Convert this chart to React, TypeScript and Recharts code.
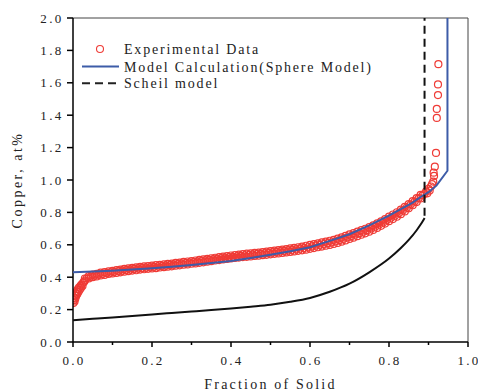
import React from "react"
import { ComposedChart, Line, Scatter, XAxis, YAxis, Legend, ReferenceLine } from "recharts"

const xTicks = [0, 0.1, 0.2, 0.3, 0.4, 0.5, 0.6, 0.7, 0.8, 0.9, 1.0]
const yTicks = [0, 0.1, 0.2, 0.3, 0.4, 0.5, 0.6, 0.7, 0.8, 0.9, 1.0, 1.1, 1.2, 1.3, 1.4, 1.5, 1.6, 1.7, 1.8, 1.9, 2.0]

// experimental data: steep start, dense band (three rows), sparse tail
const headX = [0.001, 0.002, 0.003, 0.004, 0.005, 0.006, 0.007, 0.008, 0.01, 0.011, 0.012, 0.014, 0.015, 0.017, 0.019, 0.02, 0.022, 0.024, 0.026, 0.028]
const headY = [0.24, 0.258, 0.272, 0.25, 0.288, 0.268, 0.3, 0.284, 0.312, 0.296, 0.325, 0.31, 0.336, 0.322, 0.346, 0.334, 0.356, 0.345, 0.366, 0.372]

const bandX = [
  0.03, 0.04, 0.05, 0.06, 0.07, 0.08, 0.09, 0.1, 0.11, 0.12, 0.13, 0.14, 0.15, 0.16, 0.17, 0.18, 0.19, 0.2,
  0.21, 0.22, 0.23, 0.24, 0.25, 0.26, 0.27, 0.28, 0.29, 0.3, 0.31, 0.32, 0.33, 0.34, 0.35, 0.36, 0.37, 0.38,
  0.39, 0.4, 0.41, 0.42, 0.43, 0.44, 0.45, 0.46, 0.47, 0.48, 0.49, 0.5, 0.51, 0.52, 0.53, 0.54, 0.55, 0.56,
  0.57, 0.58, 0.59, 0.6, 0.61, 0.62, 0.63, 0.64, 0.65, 0.66, 0.67, 0.68, 0.69, 0.7, 0.71, 0.72, 0.73, 0.74,
  0.75, 0.76, 0.77, 0.78, 0.79, 0.8, 0.81, 0.82, 0.83, 0.84, 0.85, 0.86, 0.87, 0.88,
]
const bandLow = [
  0.378, 0.392, 0.4, 0.405, 0.411, 0.414, 0.42, 0.423, 0.426, 0.43, 0.434, 0.437, 0.441, 0.443, 0.447, 0.449, 0.452, 0.454,
  0.456, 0.46, 0.462, 0.465, 0.467, 0.471, 0.473, 0.477, 0.479, 0.483, 0.485, 0.489, 0.492, 0.496, 0.499, 0.503, 0.506, 0.51,
  0.513, 0.516, 0.519, 0.521, 0.524, 0.526, 0.528, 0.531, 0.533, 0.536, 0.538, 0.541, 0.544, 0.547, 0.55, 0.553, 0.556, 0.559,
  0.563, 0.566, 0.57, 0.575, 0.58, 0.585, 0.589, 0.594, 0.599, 0.605, 0.611, 0.619, 0.627, 0.636, 0.644, 0.653, 0.662, 0.671,
  0.681, 0.692, 0.704, 0.717, 0.731, 0.746, 0.759, 0.773, 0.789, 0.806, 0.825, 0.844, 0.864, 0.886,
]
const bandHigh = [
  0.392, 0.407, 0.416, 0.421, 0.428, 0.431, 0.436, 0.439, 0.444, 0.447, 0.451, 0.455, 0.457, 0.461, 0.464, 0.467, 0.469, 0.471,
  0.474, 0.476, 0.479, 0.482, 0.484, 0.488, 0.49, 0.494, 0.497, 0.5, 0.503, 0.507, 0.51, 0.513, 0.517, 0.52, 0.524, 0.527,
  0.531, 0.534, 0.537, 0.539, 0.542, 0.545, 0.547, 0.55, 0.552, 0.555, 0.558, 0.561, 0.564, 0.567, 0.57, 0.573, 0.578, 0.581,
  0.585, 0.589, 0.594, 0.599, 0.604, 0.609, 0.615, 0.62, 0.625, 0.631, 0.638, 0.646, 0.655, 0.664, 0.672, 0.681, 0.69, 0.699,
  0.709, 0.72, 0.732, 0.745, 0.759, 0.774, 0.787, 0.801, 0.817, 0.834, 0.851, 0.87, 0.888, 0.908,
]

const bandMidX = [
  0.035, 0.045, 0.055, 0.065, 0.075, 0.085, 0.095, 0.105, 0.115, 0.125, 0.135, 0.145, 0.155, 0.165, 0.175, 0.185, 0.195,
  0.205, 0.215, 0.225, 0.235, 0.245, 0.255, 0.265, 0.275, 0.285, 0.295, 0.305, 0.315, 0.325, 0.335, 0.345, 0.355, 0.365,
  0.375, 0.385, 0.395, 0.405, 0.415, 0.425, 0.435, 0.445, 0.455, 0.465, 0.475, 0.485, 0.495, 0.505, 0.515, 0.525, 0.535,
  0.545, 0.555, 0.565, 0.575, 0.585, 0.595, 0.605, 0.615, 0.625, 0.635, 0.645, 0.655, 0.665, 0.675, 0.685, 0.695, 0.705,
  0.715, 0.725, 0.735, 0.745, 0.755, 0.765, 0.775, 0.785, 0.795, 0.805, 0.815, 0.825, 0.835, 0.845, 0.855, 0.865, 0.875,
]
const bandMid = [
  0.393, 0.404, 0.411, 0.417, 0.421, 0.425, 0.429, 0.433, 0.437, 0.441, 0.444, 0.447, 0.451, 0.454, 0.456, 0.459, 0.461,
  0.464, 0.466, 0.469, 0.472, 0.474, 0.478, 0.481, 0.484, 0.487, 0.49, 0.493, 0.496, 0.5, 0.503, 0.507, 0.51, 0.514,
  0.517, 0.52, 0.524, 0.526, 0.529, 0.532, 0.534, 0.537, 0.539, 0.542, 0.544, 0.547, 0.55, 0.553, 0.556, 0.559, 0.562,
  0.565, 0.569, 0.572, 0.576, 0.58, 0.585, 0.59, 0.595, 0.6, 0.605, 0.61, 0.615, 0.622, 0.629, 0.637, 0.646, 0.654,
  0.663, 0.672, 0.681, 0.69, 0.701, 0.712, 0.725, 0.738, 0.753, 0.767, 0.78, 0.795, 0.812, 0.829, 0.848, 0.867, 0.887,
]

const tailX = [0.885, 0.89, 0.894, 0.897, 0.9, 0.903, 0.906, 0.909, 0.912, 0.913, 0.914, 0.916, 0.919, 0.921, 0.921, 0.924, 0.924, 0.925]
const tailY = [0.905, 0.915, 0.93, 0.918, 0.945, 0.935, 0.96, 0.975, 0.99, 1.045, 1.025, 1.082, 1.167, 1.383, 1.439, 1.524, 1.59, 1.715]

// model calculation (sphere model)
const modelX = [0, 0.05, 0.1, 0.15, 0.2, 0.25, 0.3, 0.35, 0.4, 0.45, 0.5, 0.55, 0.6, 0.65, 0.7, 0.75, 0.8, 0.83, 0.86, 0.88, 0.9, 0.92, 0.948, 0.948]
const modelY = [0.43, 0.435, 0.44, 0.447, 0.455, 0.464, 0.475, 0.487, 0.5, 0.518, 0.538, 0.56, 0.585, 0.624, 0.665, 0.72, 0.78, 0.82, 0.86, 0.895, 0.925, 0.965, 1.057, 2.0]

// Scheil model
const scheilX = [0, 0.05, 0.1, 0.15, 0.2, 0.25, 0.3, 0.35, 0.4, 0.45, 0.5, 0.55, 0.6, 0.65, 0.7, 0.75, 0.8, 0.83, 0.85, 0.87, 0.88, 0.89]
const scheilY = [0.135, 0.143, 0.151, 0.16, 0.17, 0.179, 0.188, 0.197, 0.207, 0.218, 0.23, 0.248, 0.272, 0.31, 0.36, 0.43, 0.515, 0.58, 0.63, 0.69, 0.725, 0.765]
const scheilEdgeX = [0.89, 0.89]
const scheilEdgeY = [0.78, 2.0]

const RED = "#ef3b36"
const BLUE = "#3d5ca8"
const FONT = "'Liberation Serif', 'Times New Roman', serif"

const zip = (xs: number[], ys: number[]) => xs.map((x, i) => ({ x, y: ys[i] }))

const expData = [
  ...zip(headX, headY),
  ...zip(bandX, bandLow),
  ...zip(bandMidX, bandMid),
  ...zip(bandX, bandHigh),
  ...zip(tailX, tailY),
]
const modelData = zip(modelX, modelY)
const scheilData = zip(scheilX, scheilY)
const scheilEdge = zip(scheilEdgeX, scheilEdgeY)

const isMajor = (v: number) => Math.round(v * 10) % 2 === 0

const XTick = ({ x, y, payload }: any) => {
  const v = payload.value
  const major = isMajor(v)
  return (
    <g>
      <line x1={x} x2={x} y1={y} y2={y + (major ? 5 : 3)} stroke="#000" strokeWidth={1.5} />
      {major && (
        <text x={x + 1} y={y + 23} textAnchor="middle" fontFamily={FONT} fontSize={13} letterSpacing={2.3} fill="#222">
          {v.toFixed(1)}
        </text>
      )}
    </g>
  )
}

const YTick = ({ x, y, payload }: any) => {
  const v = payload.value
  const major = isMajor(v)
  return (
    <g>
      <line x1={x - (major ? 6 : 3)} x2={x} y1={y} y2={y} stroke="#000" strokeWidth={1.5} />
      {major && (
        <text x={x - 9.5} y={y + 4.5} textAnchor="end" fontFamily={FONT} fontSize={13} letterSpacing={2.3} fill="#222">
          {v.toFixed(1)}
        </text>
      )}
    </g>
  )
}

const Ring = (props: any) => <circle cx={props.cx} cy={props.cy} r={3.5} fill="none" stroke={RED} strokeWidth={1.2} />

const LegendBox = () => (
  <svg width={320} height={60} style={{ display: "block" }}>
    <g fontFamily={FONT} fontSize={14} letterSpacing={1.8} fill="#222">
      <circle cx={18} cy={9} r={3.5} fill="none" stroke={RED} strokeWidth={1.1} />
      <text x={42} y={14}>Experimental Data</text>
      <line x1={0} x2={37} y1={26.5} y2={26.5} stroke={BLUE} strokeWidth={2} />
      <text x={42} y={31.5}>Model Calculation(Sphere Model)</text>
      <line x1={0} x2={37} y1={43.3} y2={43.3} stroke="#222" strokeWidth={2} strokeDasharray="8 5" />
      <text x={42} y={48.3}>Scheil model</text>
    </g>
  </svg>
)

const XTitle = ({ viewBox }: any) => (
  <text x={viewBox.x + viewBox.width / 2} y={viewBox.y + 46.5} textAnchor="middle" fontFamily={FONT} fontSize={14} letterSpacing={2.2} fill="#222">
    Fraction of Solid
  </text>
)

const YTitle = ({ viewBox }: any) => {
  const cx = 21.7
  const cy = viewBox.y + viewBox.height / 2
  return (
    <text x={cx} y={cy} transform={`rotate(-90 ${cx} ${cy})`} textAnchor="middle" fontFamily={FONT} fontSize={14} letterSpacing={2.5} fill="#222">
      Copper, at%
    </text>
  )
}

export default function App() {
  return (
    <div style={{ position: "absolute", left: 0, top: 0, background: "#fff" }}>
      <ComposedChart width={478} height={391} margin={{ top: 18, right: 10, bottom: 0, left: 0 }}>
        <XAxis
          dataKey="x"
          type="number"
          domain={[0, 1]}
          ticks={xTicks}
          allowDataOverflow
          height={49}
          tickSize={0}
          tickMargin={0}
          tickLine={false}
          tick={<XTick />}
          axisLine={{ stroke: "#000", strokeWidth: 1.5 }}
          label={{ content: <XTitle /> }}
        />
        <YAxis
          dataKey="y"
          type="number"
          domain={[0, 2]}
          ticks={yTicks}
          allowDataOverflow
          width={73}
          tickSize={0}
          tickMargin={0}
          tickLine={false}
          tick={<YTick />}
          axisLine={{ stroke: "#000", strokeWidth: 1.5 }}
          label={{ content: <YTitle /> }}
        />
        <ReferenceLine y={2} stroke="#444" strokeWidth={1} />
        <ReferenceLine x={1} stroke="#444" strokeWidth={1} />
        <Legend
          layout="vertical"
          align="center"
          verticalAlign="middle"
          wrapperStyle={{ left: 82, top: 40, width: 320, height: 60 }}
          content={<LegendBox />}
        />
        <Scatter name="Experimental Data" data={expData} dataKey="y" shape={<Ring />} isAnimationActive={false} zIndex={300} />
        <Line name="Model Calculation(Sphere Model)" data={modelData} dataKey="y" type="linear" stroke={BLUE} strokeWidth={2} dot={false} activeDot={false} isAnimationActive={false} zIndex={700} />
        <Line name="Scheil model" data={scheilData} dataKey="y" type="monotone" stroke="#111" strokeWidth={2} dot={false} activeDot={false} isAnimationActive={false} zIndex={700} />
        <Line data={scheilEdge} dataKey="y" type="linear" stroke="#111" strokeWidth={2} strokeDasharray="8 5" dot={false} activeDot={false} isAnimationActive={false} legendType="none" zIndex={700} />
      </ComposedChart>
    </div>
  )
}
